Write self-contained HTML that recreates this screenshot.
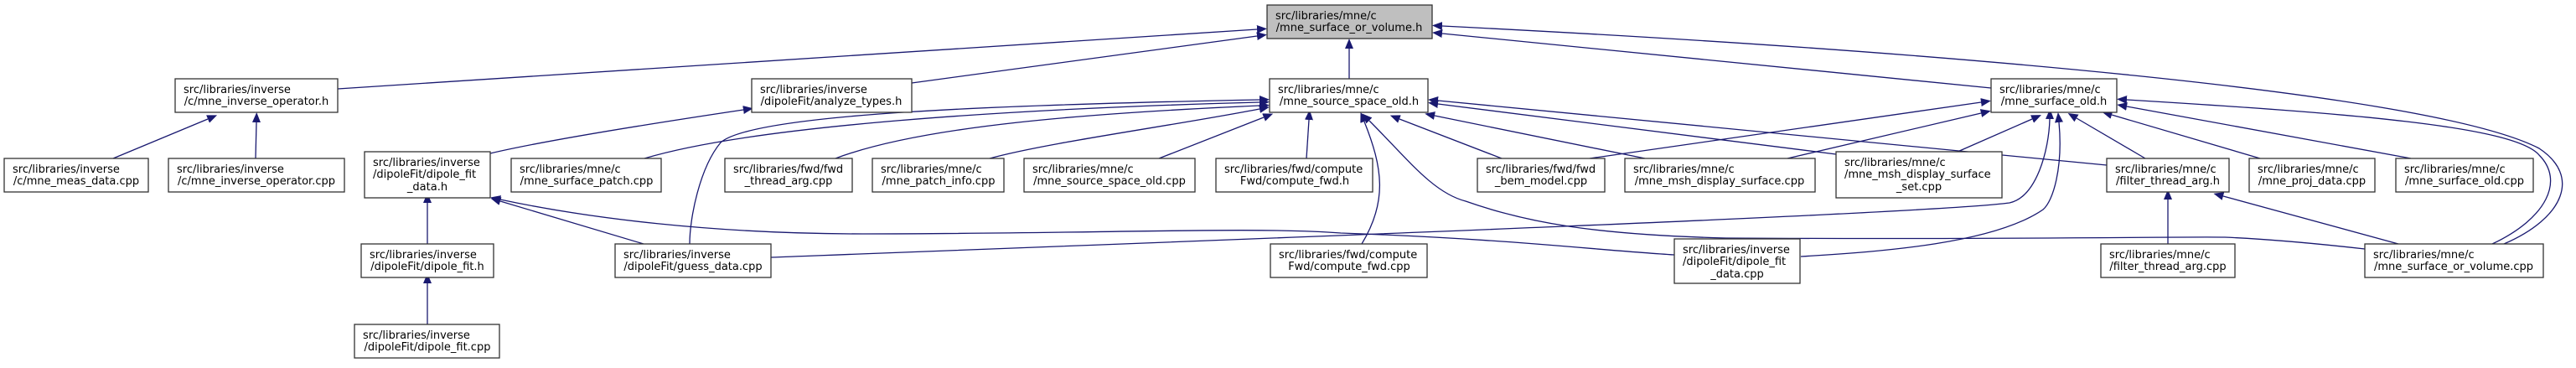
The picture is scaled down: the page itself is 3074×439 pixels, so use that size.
<!DOCTYPE html>
<html><head><meta charset="utf-8"><style>
html,body{margin:0;padding:0;background:#fff;}
svg{display:block;}
text{font-family:"DejaVu Sans","Liberation Sans",sans-serif;font-size:13px;fill:#000;}
.e{fill:none;stroke:#191970;stroke-width:1.3;}
.n{fill:#fff;stroke:#333;stroke-width:1.3;}
</style></head><body>
<svg width="3074" height="439" viewBox="0 0 3074 439" xmlns="http://www.w3.org/2000/svg">
<defs>
<marker id="a" viewBox="0 0 12 10" refX="0" refY="5" markerWidth="12" markerHeight="10" markerUnits="userSpaceOnUse" orient="auto-start-reverse">
<path d="M12,0 L0,5 L12,10 z" fill="#191970" transform="translate(12,0) scale(-1,1)"/>
</marker>
</defs>
<g marker-start="url(#a)">
<path class="e" d="M1500,35 L403,106"/>
<path class="e" d="M1500,43 L1088,99"/>
<path class="e" d="M1610,58 L1610,94"/>
<path class="e" d="M1721,40 L2376,105"/>
<path class="e" d="M1721,31 C2300,60 2900,110 3030,177 C3080,210 3060,260 2988,291"/>
<path class="e" d="M306,146 L305,189"/>
<path class="e" d="M248,142 L135,189"/>
<path class="e" d="M887,131 C760,150 640,170 585,183"/>
<path class="e" d="M1503,119 C1200,125 900,135 860,170 C835,200 823,260 823,291"/>
<path class="e" d="M1503,122 C1200,130 900,150 769,189"/>
<path class="e" d="M1503,126 C1300,135 1100,150 997,189"/>
<path class="e" d="M1503,130 C1400,150 1250,170 1181,189"/>
<path class="e" d="M1508,140 L1383,189"/>
<path class="e" d="M1562,143 L1559,189"/>
<path class="e" d="M1628,145 C1650,200 1656,240 1625,291"/>
<path class="e" d="M1634,144 C1680,190 1710,230 1749,240 C1820,265 1900,280 2060,284 C2400,286 2600,282 2655,283 C2700,285 2760,290 2822,297"/>
<path class="e" d="M1670,142 L1792,189"/>
<path class="e" d="M1712,138 L1963,189"/>
<path class="e" d="M1716,124 L2191,184"/>
<path class="e" d="M1716,120 L2514,197"/>
<path class="e" d="M2364,122 L1897,189"/>
<path class="e" d="M2364,135 L2133,189"/>
<path class="e" d="M2425,142 L2336,181"/>
<path class="e" d="M2446,142 C2445,180 2430,235 2398,242 C2300,255 1500,285 920,307"/>
<path class="e" d="M2457,146 C2462,200 2450,240 2438,250 C2380,290 2250,300 2149,306"/>
<path class="e" d="M2478,141 L2560,189"/>
<path class="e" d="M2520,137 L2697,189"/>
<path class="e" d="M2538,127 L2877,189"/>
<path class="e" d="M2538,119 C2800,135 3000,150 3030,185 C3060,215 3040,260 2974,291"/>
<path class="e" d="M2587,238 L2587,291"/>
<path class="e" d="M2653,234 L2862,291"/>
<path class="e" d="M510,242 L510,291"/>
<path class="e" d="M510,338 L510,387"/>
<path class="e" d="M597,240 L768,291"/>
<path class="e" d="M597,238 C700,260 850,279 1030,279 C1300,279 1500,270 1600,278 C1800,285 1900,298 1998,304"/>
</g>
<rect class="n" x="1512" y="6" width="197" height="40" style="fill:#bfbfbf"/>
<text x="1522" y="23">src/libraries/mne/c</text><text x="1610" y="37" text-anchor="middle">/mne_surface_or_volume.h</text>

<rect class="n" x="209" y="94" width="194" height="40"/>
<text x="219" y="111">src/libraries/inverse</text><text x="306" y="125" text-anchor="middle">/c/mne_inverse_operator.h</text>

<rect class="n" x="897" y="94" width="191" height="40"/>
<text x="907" y="111">src/libraries/inverse</text><text x="992" y="125" text-anchor="middle">/dipoleFit/analyze_types.h</text>

<rect class="n" x="1515" y="94" width="189" height="40"/>
<text x="1525" y="111">src/libraries/mne/c</text><text x="1610" y="125" text-anchor="middle">/mne_source_space_old.h</text>

<rect class="n" x="2376" y="94" width="150" height="40"/>
<text x="2386" y="111">src/libraries/mne/c</text><text x="2451" y="125" text-anchor="middle">/mne_surface_old.h</text>

<rect class="n" x="5" y="189" width="172" height="40"/>
<text x="15" y="206">src/libraries/inverse</text><text x="91" y="220" text-anchor="middle">/c/mne_meas_data.cpp</text>

<rect class="n" x="201" y="189" width="210" height="40"/>
<text x="211" y="206">src/libraries/inverse</text><text x="306" y="220" text-anchor="middle">/c/mne_inverse_operator.cpp</text>

<rect class="n" x="435" y="181" width="150" height="55"/>
<text x="445" y="198">src/libraries/inverse</text><text x="445" y="212">/dipoleFit/dipole_fit</text><text x="510" y="227" text-anchor="middle">_data.h</text>

<rect class="n" x="610" y="189" width="179" height="40"/>
<text x="620" y="206">src/libraries/mne/c</text><text x="700" y="220" text-anchor="middle">/mne_surface_patch.cpp</text>

<rect class="n" x="865" y="189" width="152" height="40"/>
<text x="875" y="206">src/libraries/fwd/fwd</text><text x="941" y="220" text-anchor="middle">_thread_arg.cpp</text>

<rect class="n" x="1041" y="189" width="157" height="40"/>
<text x="1051" y="206">src/libraries/mne/c</text><text x="1120" y="220" text-anchor="middle">/mne_patch_info.cpp</text>

<rect class="n" x="1222" y="189" width="204" height="40"/>
<text x="1232" y="206">src/libraries/mne/c</text><text x="1324" y="220" text-anchor="middle">/mne_source_space_old.cpp</text>

<rect class="n" x="1451" y="189" width="187" height="40"/>
<text x="1461" y="206">src/libraries/fwd/compute</text><text x="1545" y="220" text-anchor="middle">Fwd/compute_fwd.h</text>

<rect class="n" x="1763" y="189" width="152" height="40"/>
<text x="1773" y="206">src/libraries/fwd/fwd</text><text x="1839" y="220" text-anchor="middle">_bem_model.cpp</text>

<rect class="n" x="1939" y="189" width="227" height="40"/>
<text x="1949" y="206">src/libraries/mne/c</text><text x="2052" y="220" text-anchor="middle">/mne_msh_display_surface.cpp</text>

<rect class="n" x="2191" y="181" width="198" height="55"/>
<text x="2201" y="198">src/libraries/mne/c</text><text x="2201" y="212">/mne_msh_display_surface</text><text x="2290" y="227" text-anchor="middle">_set.cpp</text>

<rect class="n" x="2514" y="189" width="146" height="40"/>
<text x="2524" y="206">src/libraries/mne/c</text><text x="2587" y="220" text-anchor="middle">/filter_thread_arg.h</text>

<rect class="n" x="2684" y="189" width="150" height="40"/>
<text x="2694" y="206">src/libraries/mne/c</text><text x="2759" y="220" text-anchor="middle">/mne_proj_data.cpp</text>

<rect class="n" x="2859" y="189" width="164" height="40"/>
<text x="2869" y="206">src/libraries/mne/c</text><text x="2941" y="220" text-anchor="middle">/mne_surface_old.cpp</text>

<rect class="n" x="431" y="291" width="158" height="40"/>
<text x="441" y="308">src/libraries/inverse</text><text x="510" y="322" text-anchor="middle">/dipoleFit/dipole_fit.h</text>

<rect class="n" x="734" y="291" width="186" height="40"/>
<text x="744" y="308">src/libraries/inverse</text><text x="827" y="322" text-anchor="middle">/dipoleFit/guess_data.cpp</text>

<rect class="n" x="1516" y="291" width="187" height="40"/>
<text x="1526" y="308">src/libraries/fwd/compute</text><text x="1610" y="322" text-anchor="middle">Fwd/compute_fwd.cpp</text>

<rect class="n" x="1998" y="285" width="150" height="53"/>
<text x="2008" y="302">src/libraries/inverse</text><text x="2008" y="316">/dipoleFit/dipole_fit</text><text x="2073" y="331" text-anchor="middle">_data.cpp</text>

<rect class="n" x="2507" y="291" width="160" height="40"/>
<text x="2517" y="308">src/libraries/mne/c</text><text x="2587" y="322" text-anchor="middle">/filter_thread_arg.cpp</text>

<rect class="n" x="2822" y="291" width="213" height="40"/>
<text x="2832" y="308">src/libraries/mne/c</text><text x="2928" y="322" text-anchor="middle">/mne_surface_or_volume.cpp</text>

<rect class="n" x="423" y="387" width="173" height="40"/>
<text x="433" y="404">src/libraries/inverse</text><text x="510" y="418" text-anchor="middle">/dipoleFit/dipole_fit.cpp</text>
</svg>
</body></html>
